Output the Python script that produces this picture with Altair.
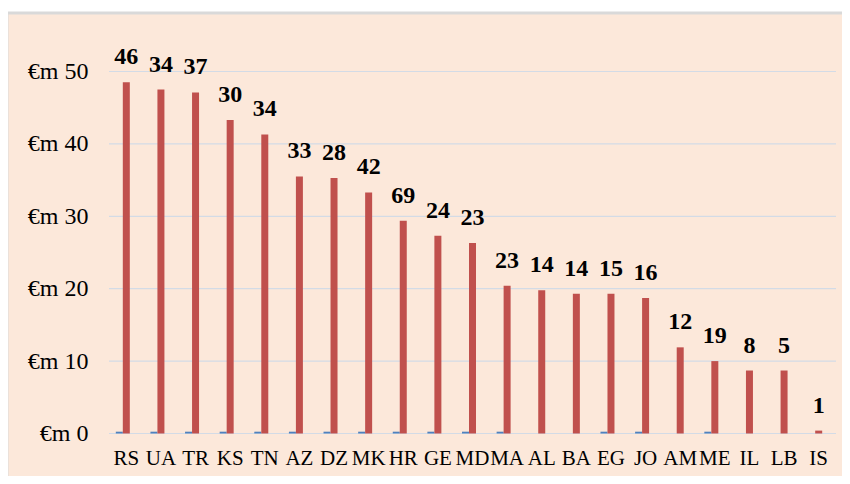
import altair as alt
import pandas as pd

categories = ["RS", "UA", "TR", "KS", "TN", "AZ", "DZ", "MK", "HR", "GE", "MD",
              "MA", "AL", "BA", "EG", "JO", "AM", "ME", "IL", "LB", "IS"]
amount_eur_m = [48.5, 47.5, 47.1, 43.3, 41.3, 35.5, 35.3, 33.3, 29.4, 27.3, 26.3,
                20.4, 19.8, 19.3, 19.3, 18.7, 11.9, 10.0, 8.7, 8.7, 0.4]
small_series = [0.25, 0.25, 0.25, 0.25, 0.25, 0.25, 0.25, 0.25, 0.25, 0.25, 0.25,
                0.25, 0, 0, 0.25, 0.25, 0, 0.25, 0, 0, 0]
count_labels = [46, 34, 37, 30, 34, 33, 28, 42, 69, 24, 23,
                23, 14, 14, 15, 16, 12, 19, 8, 5, 1]
y_ticks = [0, 10, 20, 30, 40, 50]

df = pd.DataFrame({"cat": categories, "amt": amount_eur_m,
                   "small": small_series, "lbl": count_labels})
grid_df = pd.DataFrame({"v": y_ticks})
one = pd.DataFrame({"a": [0]})

W, H = 727, 362
FONT = "Liberation Serif, Times New Roman, serif"

xenc = alt.X("cat:N", sort=categories,
             scale=alt.Scale(paddingInner=0, paddingOuter=0),
             axis=alt.Axis(title=None, labelAngle=0, labelFont=FONT, labelFontSize=21,
                           labelColor="#000000", labelPadding=14, domain=False,
                           ticks=False, labelOverlap=False, labelBound=False, zindex=1))
yscale = alt.Scale(domain=[0, 50], nice=False)
yaxis = alt.Axis(title=None, values=y_ticks, labelExpr="'€m ' + datum.value",
                 labelFont=FONT, labelFontSize=24, labelColor="#000000",
                 labelPadding=21, domain=False, ticks=False, grid=False, zindex=1)

frame = alt.Chart(one).mark_rect(fill="#FCE8DA", stroke="#D9D9D9", strokeWidth=3).encode(
    x=alt.value(-102), x2=alt.value(740), y=alt.value(-58.5), y2=alt.value(440))

grid = alt.Chart(grid_df).mark_rule(color="#D3DBE6", strokeWidth=1.2).encode(
    y=alt.Y("v:Q", scale=yscale, axis=yaxis),
    x=alt.value(0), x2=alt.value(W))

blue = alt.Chart(df).mark_bar(color="#4F81BD", width=7, xOffset=-7).encode(
    x=xenc, y=alt.Y("small:Q", scale=yscale, axis=yaxis))

red = alt.Chart(df).mark_bar(color="#C0504D", width=7).encode(
    x=xenc, y=alt.Y("amt:Q", scale=yscale, axis=yaxis))

text = alt.Chart(df).mark_text(font=FONT, fontSize=24, fontWeight="bold",
                               color="#000000", baseline="alphabetic", dy=-18).encode(
    x=xenc, y=alt.Y("amt:Q", scale=yscale, axis=yaxis), text="lbl:Q")

chart = alt.layer(frame, grid, blue, red, text).properties(
    width=W, height=H,
    padding={"left": 101, "top": 63.5, "right": 6, "bottom": 42},
    autosize=alt.AutoSizeParams(type="none"),
    background="#FFFFFF",
).configure_view(stroke=None)

chart.save("out.html", embed_options={"renderer": "svg", "actions": False})
